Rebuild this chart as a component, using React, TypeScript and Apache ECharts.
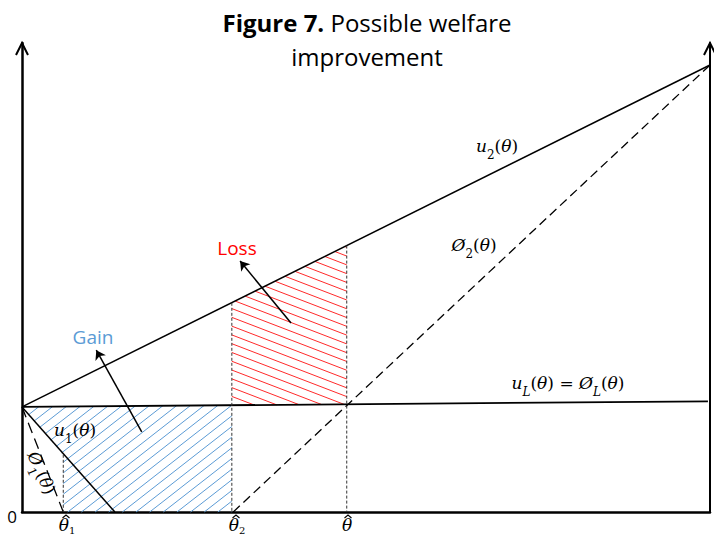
import React, { useEffect, useRef } from "react";
import * as echarts from "echarts";

// ---- data (abstract units: x = theta, y = utility) ----
const axisMin = 0;
const axisMax = 100;
const u2Line = [[0, 22.4], [100, 95.3]];
const phi2Line = [[30.7, 0], [100, 95.3]];
const uLLine = [[0, 22.4], [99.7, 23.6]];
const u1Line = [[0, 22.4], [13.5, 0]];
const phi1Line = [[0, 22.4], [6, 0]];
const theta1Guide = [[6, 12.2], [6, 0]];
const theta2Guide = [[30.5, 44.6], [30.5, 0]];
const thetaGuide = [[47.2, 56.8], [47.2, 0]];
const gainRegion = [[0, 22.4], [30.5, 22.77], [30.5, 0], [6, 0], [6, 12.2]];
const lossRegion = [[30.5, 44.6], [47.2, 56.8], [47.2, 22.97], [30.5, 22.77]];
const gainArrow = [[17.4, 17.1], [10.8, 34.5]];
const lossArrow = [[39.1, 40.3], [31.7, 53.5]];
const axisTops = [[0, 100], [100, 100]];

const MATH = "DejaVu Serif";
const SANS = "Open Sans";

function hatchLines(pts: number[][], angleDeg: number, spacing: number, color: string) {
  const a = (angleDeg * Math.PI) / 180;
  const d = [Math.cos(a), -Math.sin(a)];
  const n = [-d[1], d[0]];
  const proj = (p: number[], v: number[]) => p[0] * v[0] + p[1] * v[1];
  const ts = pts.map((p) => proj(p, n));
  const tMin = Math.min(...ts);
  const tMax = Math.max(...ts);
  const children: any[] = [];
  for (let t = Math.ceil(tMin / spacing) * spacing; t <= tMax; t += spacing) {
    const ss: number[] = [];
    for (let i = 0; i < pts.length; i++) {
      const A = pts[i];
      const B = pts[(i + 1) % pts.length];
      const ta = proj(A, n);
      const tb = proj(B, n);
      if ((ta <= t && t < tb) || (tb <= t && t < ta)) {
        const f = (t - ta) / (tb - ta);
        const P = [A[0] + (B[0] - A[0]) * f, A[1] + (B[1] - A[1]) * f];
        ss.push(proj(P, d));
      }
    }
    ss.sort((x, y) => x - y);
    for (let k = 0; k + 1 < ss.length; k += 2) {
      const s1 = ss[k];
      const s2 = ss[k + 1];
      children.push({
        type: "line",
        shape: {
          x1: t * n[0] + s1 * d[0],
          y1: t * n[1] + s1 * d[1],
          x2: t * n[0] + s2 * d[0],
          y2: t * n[1] + s2 * d[1],
        },
        style: { stroke: color, lineWidth: 1 },
      });
    }
  }
  return children;
}

function hatchSeries(region: number[][], angle: number, spacing: number, color: string) {
  return {
    type: "custom",
    silent: true,
    z: 1,
    data: [[0, 0]],
    renderItem: (_p: any, api: any) => {
      const pts = region.map((v) => api.coord(v));
      return { type: "group", children: hatchLines(pts, angle, spacing, color) };
    },
  };
}

function lineSeries(data: number[][], width: number, type: any, color = "#000") {
  return {
    type: "line",
    data,
    showSymbol: false,
    silent: true,
    z: 3,
    lineStyle: { color, width, type },
  };
}

const mathRich = (size: number, pad = 6, sub = Math.round(size * 0.68)) => ({
  i: { fontFamily: MATH, fontStyle: "italic", fontSize: size, fill: "#000", padding: [0, 0, pad, 0], verticalAlign: "bottom" },
  n: { fontFamily: MATH, fontSize: size, fill: "#000", padding: [0, 0, pad, 0], verticalAlign: "bottom" },
  s: { fontFamily: MATH, fontSize: sub, fill: "#000", verticalAlign: "bottom" },
  si: { fontFamily: MATH, fontStyle: "italic", fontSize: sub, fill: "#000", verticalAlign: "bottom" },
});

function text(x: number, y: number, t: string, style: any = {}, rotation = 0) {
  return {
    type: "text",
    x,
    y,
    rotation,
    z: 10,
    style: { text: t, align: "center", verticalAlign: "middle", fill: "#000", ...style },
  };
}

const hat = (x: number, y: number) => ({
  type: "polyline",
  z: 11,
  shape: { points: [[x - 3.5, y + 3], [x, y], [x + 3.5, y + 3]] },
  style: { stroke: "#000", lineWidth: 1.1, fill: "none" },
});

export default function App() {
  const ref = useRef<HTMLDivElement>(null);
  useEffect(() => {
    if (!ref.current) return;
    const chart = echarts.init(ref.current, null, { renderer: "svg" });
    const axisStyle = { show: true, lineStyle: { color: "#000", width: 2.5 } };
    chart.setOption({
      animation: false,
      backgroundColor: "#fff",
      grid: { left: 22, right: 4, top: 43, bottom: 23 },
      xAxis: {
        type: "value",
        min: axisMin,
        max: axisMax,
        axisLine: { ...axisStyle, onZero: false },
        axisTick: { show: false },
        axisLabel: { show: false },
        splitLine: { show: false },
      },
      yAxis: [
        {
          type: "value",
          min: axisMin,
          max: axisMax,
          position: "left",
          axisLine: { ...axisStyle, onZero: false },
          axisTick: { show: false },
          axisLabel: { show: false },
          splitLine: { show: false },
        },
        {
          type: "value",
          min: axisMin,
          max: axisMax,
          position: "right",
          axisLine: { show: true, onZero: false, lineStyle: { color: "#000", width: 2 } },
          axisTick: { show: false },
          axisLabel: { show: false },
          splitLine: { show: false },
        },
      ],
      series: [
        hatchSeries(gainRegion, 38, 8.4, "#5B9BD5"),
        hatchSeries(lossRegion, -21, 8.2, "#FF2A2A"),
        lineSeries(u2Line, 1.5, "solid"),
        lineSeries(phi2Line, 1.3, [9, 5]),
        lineSeries(uLLine, 1.8, "solid"),
        lineSeries(u1Line, 1.5, "solid"),
        lineSeries(phi1Line, 1.3, [11, 6]),
        lineSeries(theta1Guide, 1, [3, 2], "#333"),
        lineSeries(theta2Guide, 1, [3, 2], "#333"),
        lineSeries(thetaGuide, 1, [3, 2], "#333"),
        {
          type: "lines",
          coordinateSystem: "cartesian2d",
          silent: true,
          z: 5,
          symbol: ["none", "arrow"],
          symbolSize: 9,
          lineStyle: { color: "#000", width: 1.5, opacity: 1, curveness: 0 },
          data: [{ coords: gainArrow }, { coords: lossArrow }],
        },
        {
          type: "custom",
          silent: true,
          z: 6,
          data: axisTops,
          renderItem: (_p: any, api: any) => {
            const c = api.coord([api.value(0), api.value(1)]);
            return {
              type: "polyline",
              shape: { points: [[c[0] - 6, c[1] + 12], [c[0], c[1]], [c[0] + 6, c[1] + 12]] },
              style: { stroke: "#000", lineWidth: 2, fill: "none" },
            };
          },
        },
      ],
      graphic: [
        text(367, 22, "{b|Figure 7.} Possible welfare", {
          fontFamily: SANS,
          fontSize: 24,
          rich: { b: { fontFamily: SANS, fontSize: 24, fontWeight: "bold", fill: "#000" } },
        }),
        text(367, 56, "improvement", { fontFamily: SANS, fontSize: 24 }),
        text(93, 337, "Gain", { fontFamily: SANS, fontSize: 19, fill: "#5B9BD5" }),
        text(237, 248, "Loss", { fontFamily: SANS, fontSize: 19, fill: "#FF0000" }),
        text(497, 149, "{i|u}{s|2}{n|(}{i|θ}{n|)}", { rich: mathRich(17) }),
        text(474, 248, "{i|Ø}{s|2}{n|(}{i|θ}{n|)}", { rich: mathRich(17) }),
        text(568, 386, "{i|u}{si|L}{n|(}{i|θ}{n|) = }{i|Ø}{si|L}{n|(}{i|θ}{n|)}", { rich: mathRich(17) }),
        text(75, 433, "{i|u}{s|1}{n|(}{i|θ}{n|)}", { rich: mathRich(17) }),
        text(39, 474, "{i|Ø}{s|1}{n|(}{i|θ}{n|)}", { rich: mathRich(17) }, -1.15),
        text(12, 516, "0", { fontFamily: SANS, fontSize: 17 }),
        text(67, 526, "{i|θ}{s|1}", { rich: mathRich(17, 2, 10) }),
        hat(66, 515),
        text(237, 526, "{i|θ}{s|2}", { rich: mathRich(17, 2, 10) }),
        hat(236, 515),
        text(347, 526, "{i|θ}", { rich: mathRich(17, 2, 10) }),
        hat(348, 515),
      ],
    });
    return () => chart.dispose();
  }, []);
  return (
    <div
      ref={ref}
      style={{ position: "fixed", left: 0, top: 0, width: 714, height: 535, background: "#fff" }}
    />
  );
}
